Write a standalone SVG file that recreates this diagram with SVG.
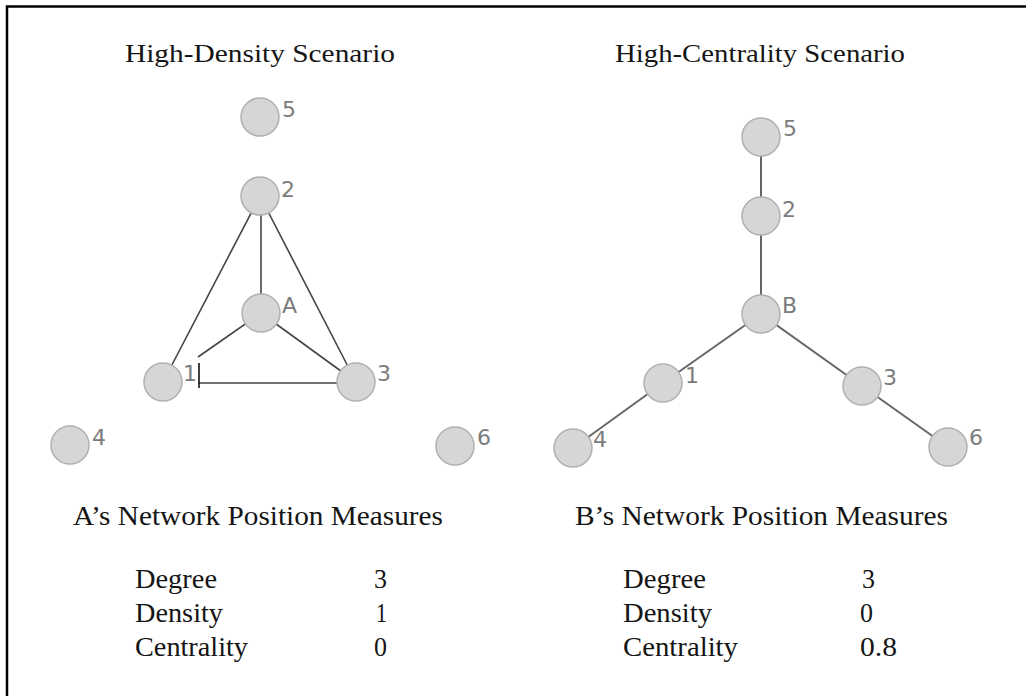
<svg xmlns="http://www.w3.org/2000/svg" width="1026" height="696" viewBox="0 0 1026 696">
<style>
.bg{fill:#ffffff}
.frame{stroke:#000;stroke-width:2.5;fill:none}
.node circle{fill:#d6d6d6;stroke:#b0b0b0;stroke-width:1.5}
.node text{font-family:"DejaVu Sans",Verdana,sans-serif;font-size:22px;fill:#7c7c7c}
.edgeL line{stroke:#444;stroke-width:1.6}
.edgeR line{stroke:#666;stroke-width:2}
.title{font-family:"Liberation Serif","Times New Roman",serif;font-size:26px;fill:#151515}
.head{font-family:"Liberation Serif","Times New Roman",serif;font-size:27px;fill:#151515}
.cell{font-family:"Liberation Serif","Times New Roman",serif;font-size:27px;fill:#151515}
</style>
<rect class="bg" x="0" y="0" width="1026" height="696"/>
<path class="frame" d="M7,696 V6.5 H1026"/>

<text class="title" x="125" y="62" textLength="270" lengthAdjust="spacingAndGlyphs">High-Density Scenario</text>
<text class="title" x="615" y="62" textLength="290" lengthAdjust="spacingAndGlyphs">High-Centrality Scenario</text>

<g id="connectors">
  <g class="edgeL">
    <line x1="260" y1="196" x2="163" y2="382"/>
    <line x1="261" y1="196" x2="261" y2="313"/>
    <line x1="260" y1="196" x2="356" y2="382"/>
    <line x1="261" y1="313" x2="198" y2="357"/>
    <line x1="261" y1="313" x2="356" y2="382"/>
    <line x1="199" y1="383" x2="356" y2="383"/>
    <line x1="199" y1="363" x2="199" y2="388" style="stroke:#000;stroke-width:1.5"/>
  </g>
  <g class="edgeR">
    <line x1="761" y1="137" x2="761" y2="314"/>
    <line x1="761" y1="314" x2="663" y2="383"/>
    <line x1="761" y1="314" x2="862" y2="386"/>
    <line x1="663" y1="383" x2="573" y2="448"/>
    <line x1="862" y1="386" x2="948" y2="447"/>
  </g>
</g>

<g id="L5" class="node"><circle cx="260" cy="117" r="19"/><text x="282" y="117">5</text></g>
<g id="L2" class="node"><circle cx="260" cy="196" r="19"/><text x="281" y="197">2</text></g>
<g id="LA" class="node"><circle cx="261" cy="313" r="19"/><text x="282" y="313">A</text></g>
<g id="L1" class="node"><circle cx="163" cy="382" r="19"/><text x="183" y="381">1</text></g>
<g id="L3" class="node"><circle cx="356" cy="382" r="19"/><text x="377" y="381">3</text></g>
<g id="L4" class="node"><circle cx="70" cy="445" r="19"/><text x="92" y="445">4</text></g>
<g id="L6" class="node"><circle cx="455" cy="446" r="19"/><text x="477" y="445">6</text></g>

<g id="R5" class="node"><circle cx="761" cy="137" r="19"/><text x="783" y="136">5</text></g>
<g id="R2" class="node"><circle cx="761" cy="216" r="19"/><text x="782" y="217">2</text></g>
<g id="RB" class="node"><circle cx="761" cy="314" r="19"/><text x="782" y="313">B</text></g>
<g id="R1" class="node"><circle cx="663" cy="383" r="19"/><text x="685" y="383">1</text></g>
<g id="R3" class="node"><circle cx="862" cy="386" r="19"/><text x="883" y="385">3</text></g>
<g id="R4" class="node"><circle cx="573" cy="448" r="19"/><text x="593" y="447">4</text></g>
<g id="R6" class="node"><circle cx="948" cy="447" r="19"/><text x="969" y="445">6</text></g>

<g id="tableA">
  <text class="head" x="73" y="525" textLength="370" lengthAdjust="spacingAndGlyphs">A’s Network Position Measures</text>
  <text class="cell" x="135" y="588" textLength="82" lengthAdjust="spacingAndGlyphs">Degree</text>
  <text class="cell" x="135" y="622" textLength="88" lengthAdjust="spacingAndGlyphs">Density</text>
  <text class="cell" x="135" y="656" textLength="113" lengthAdjust="spacingAndGlyphs">Centrality</text>
  <text class="cell" x="374" y="588" textLength="13" lengthAdjust="spacingAndGlyphs">3</text>
  <text class="cell" x="376" y="622" textLength="11" lengthAdjust="spacingAndGlyphs">1</text>
  <text class="cell" x="374" y="656" textLength="13" lengthAdjust="spacingAndGlyphs">0</text>
</g>
<g id="tableB">
  <text class="head" x="575" y="525" textLength="373" lengthAdjust="spacingAndGlyphs">B’s Network Position Measures</text>
  <text class="cell" x="623" y="588" textLength="83" lengthAdjust="spacingAndGlyphs">Degree</text>
  <text class="cell" x="623" y="622" textLength="89" lengthAdjust="spacingAndGlyphs">Density</text>
  <text class="cell" x="623" y="656" textLength="115" lengthAdjust="spacingAndGlyphs">Centrality</text>
  <text class="cell" x="862" y="588" textLength="13" lengthAdjust="spacingAndGlyphs">3</text>
  <text class="cell" x="860" y="622" textLength="13" lengthAdjust="spacingAndGlyphs">0</text>
  <text class="cell" x="860" y="656" textLength="37" lengthAdjust="spacingAndGlyphs">0.8</text>
</g>
</svg>
